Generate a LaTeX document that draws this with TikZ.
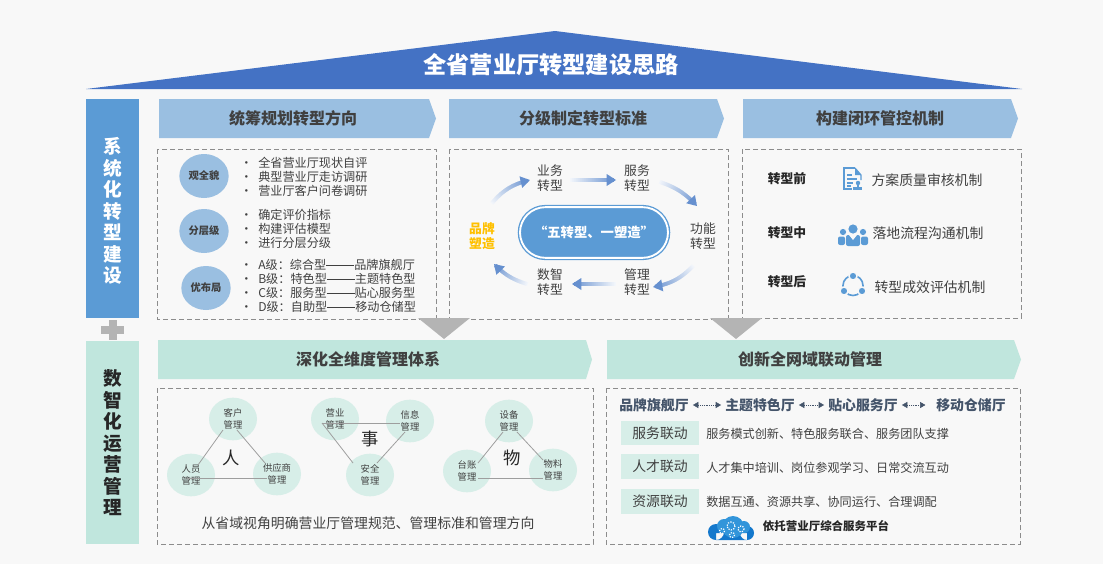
\documentclass[tikz,border=0pt]{standalone}
\usepackage{xcolor}
\usepackage{fontspec}
\setmainfont{Noto Sans CJK SC}
\usetikzlibrary{shapes,arrows,arrows.meta,positioning,calc,decorations.markings}

\definecolor{pagegray}{HTML}{F8F8F8}
\definecolor{roofblue}{HTML}{4472C4}
\definecolor{barblue}{HTML}{5B9BD5}
\definecolor{headblue}{HTML}{9ABFE1}
\definecolor{barteal}{HTML}{C0E6DD}
\definecolor{softteal}{HTML}{D7EEE8}
\definecolor{darktext}{HTML}{404040}
\definecolor{navytext}{HTML}{44546A}
\definecolor{flowblue}{HTML}{6690CF}
\definecolor{dashgray}{HTML}{8C8C8C}
\definecolor{wedgegray}{HTML}{B4B4B4}
\definecolor{brandorange}{HTML}{FFC000}
\definecolor{cloudtop}{HTML}{5FC0F0}
\definecolor{cloudlow}{HTML}{1478CC}

\newcommand{\px}[1]{\fontsize{#1}{#1}\selectfont}
\newcommand{\longdash}{\rule[0.36em]{21pt}{0.5pt}}

\tikzset{
  dashbox/.style={draw=dashgray, line width=0.7pt, dash pattern=on 3.5pt off 2.5pt},
  headtext/.style={font=\px{12}\bfseries, text=darktext, inner sep=1pt},
  bodytext/.style={font=\px{9.1}, text=darktext, inner sep=0pt, anchor=west},
  tagtext/.style={font=\px{7.7}\bfseries, text=darktext, fill=headblue, ellipse, inner sep=0pt, minimum width=37pt, minimum height=33pt},
  flowtext/.style={font=\fontsize{9.6}{11.3}\selectfont, text=darktext, align=center, inner sep=1pt},
  stagetext/.style={font=\px{9.6}\bfseries, text=black!85, inner sep=1pt},
  mechtext/.style={font=\px{10.4}, text=darktext, inner sep=1pt},
  mgmtcircle/.style={ellipse, fill=softteal, inner sep=0pt, minimum width=36pt, minimum height=32pt, align=center, font=\fontsize{7}{8.6}\selectfont, text=darktext},
  triline/.style={draw=black!38, line width=0.6pt},
  bigchar/.style={font=\px{13}, text=black!85, inner sep=0pt},
  halltext/.style={font=\px{10.4}\bfseries, text=navytext, inner sep=3pt},
  linktag/.style={fill=softteal, minimum width=58.5pt, minimum height=18.5pt, inner sep=0pt, font=\px{10.4}, text=darktext},
  linkarrow/.style={{Triangle[length=4pt,width=4.5pt]}-{Triangle[length=4pt,width=4.5pt]}, navytext, densely dotted, line width=0.4pt},
  fadearrow/.style={postaction={decorate}, decoration={markings,
    mark=between positions 0 and 0.94 step 0.5pt with {
      \pgfmathsetmacro\fadepct{8+92*\pgfkeysvalueof{/pgf/decoration/mark info/distance from start}/\pgfdecoratedpathlength}
      \fill[flowblue!\fadepct!white] (-0.4pt,-1.4pt) rectangle (0.4pt,1.4pt);},
    mark=at position 1 with {\fill[flowblue] (0pt,0pt) -- (-7pt,4.5pt) -- (-7pt,-4.5pt) -- cycle;}}}
}

\begin{document}
\begin{tikzpicture}[x=0.75pt, y=-0.75pt]
\path[use as bounding box, fill=pagegray] (0,0) rectangle (1103,564);

% Roof
\fill[roofblue] (86,89) -- (555,31) -- (1022,89) -- cycle;
\node[font=\px{17.4}\bfseries, text=white, inner sep=0pt] (rooftitle) at (551,65) {全省营业厅转型建设思路};

% Left bars
\fill[barblue] (86,99) rectangle (139,318);
\node[font=\fontsize{14}{16.1}\selectfont\bfseries, text=white, align=center, inner sep=0pt] (bartop) at (112.5,211) {系\\统\\化\\转\\型\\建\\设};
\fill[barteal] (86,341) rectangle (139,544);
\node[font=\fontsize{14}{16.1}\selectfont\bfseries, text=black!85, align=center, inner sep=0pt] (barbottom) at (112.5,443) {数\\智\\化\\运\\营\\管\\理};
\fill[wedgegray] (108.5,320) rectangle (116.5,340);
\fill[wedgegray] (101,326) rectangle (124,334);

% Dashed boxes
\draw[dashbox] (157,149) rectangle (436,319);
\draw[dashbox] (449,149) rectangle (728,319);
\draw[dashbox] (742,149) rectangle (1021,318);
\draw[dashbox] (157,388) rectangle (593,544);
\draw[dashbox] (606,388) rectangle (1020,544);

% Top headers
\fill[headblue] (159,99) -- (429,99) -- (436,118.5) -- (429,138) -- (159,138) -- cycle;
\node[headtext] (headplan) at (293,118) {统筹规划转型方向};
\fill[headblue] (449,99) -- (717,99) -- (724,118.5) -- (717,138) -- (449,138) -- cycle;
\node[headtext] (headgrade) at (583,118) {分级制定转型标准};
\fill[headblue] (743,99) -- (1011,99) -- (1018,118.5) -- (1011,138) -- (743,138) -- cycle;
\node[headtext] (headloop) at (880,118) {构建闭环管控机制};

% Bottom headers
\fill[barteal] (158,340) -- (586,340) -- (592,359.5) -- (586,379) -- (158,379) -- cycle;
\node[headtext] (headdepth) at (368,359) {深化全维度管理体系};
\fill[barteal] (607,340) -- (1014,340) -- (1021,359.5) -- (1014,379) -- (607,379) -- cycle;
\node[headtext] (headlink) at (810,359) {创新全网域联动管理};

% Gray wedges
\fill[wedgegray] (418,318) -- (470,318) -- (444,339) -- cycle;
\fill[wedgegray] (710,318) -- (762,318) -- (736,339) -- cycle;

% Overview tags and lists
\node[tagtext] (tagview) at (204,176) {观全貌};
\node[tagtext] (taglevel) at (204,231) {分层级};
\node[tagtext] (taglayout) at (206,288) {优布局};
\foreach \rowy/\rowtext in {163/全省营业厅现状自评, 177/典型营业厅走访调研, 191/营业厅客户问卷调研,
    215/确定评价指标, 229/构建评估模型, 243/进行分层分级,
    265/A级：综合型\longdash 品牌旗舰厅, 279/B级：特色型\longdash 主题特色型,
    293/C级：服务型\longdash 贴心服务型, 307/D级：自助型\longdash 移动仓储型}
  \node[bodytext] (row\rowy) at (240,\rowy) {\makebox[13.5pt][l]{•}\rowtext};

% Five transformations ring
\node[fill=barblue, draw=barblue, line width=1pt, double=white, double distance=1.4pt, rounded corners=19pt, minimum width=111pt, minimum height=38pt, inner sep=0pt, font=\px{10}\bfseries, text=white] (fivepill) at (594,232.5) {“五转型、一塑造”};
\node[flowtext] (yewu) at (550,178) {业务\\转型};
\node[flowtext] (fuwu) at (637,178) {服务\\转型};
\node[flowtext] (gongneng) at (703,236) {功能\\转型};
\node[flowtext] (guanli) at (637,282) {管理\\转型};
\node[flowtext] (shuzhi) at (550,282) {数智\\转型};
\node[flowtext, text=brandorange, font=\fontsize{9.6}{11.3}\selectfont\bfseries] (pinpai) at (482,236) {品牌\\塑造};
\path[fadearrow] ($(pinpai)+(10,-33)$) to[bend left=18] ($(yewu)+(-20,2)$);
\path[fadearrow] ($(yewu)+(21,2)$) -- ($(fuwu)+(-21,2)$);
\path[fadearrow] ($(fuwu)+(23,4)$) to[bend left=14] ($(gongneng)+(-6,-30)$);
\path[fadearrow] ($(gongneng)+(-10,30)$) to[bend left=18] ($(guanli)+(16,5)$);
\path[fadearrow] ($(guanli)+(-22,2)$) -- ($(shuzhi)+(22,2)$);
\path[fadearrow] ($(shuzhi)+(-23,2)$) to[bend left=14] ($(pinpai)+(12,28)$);

% Control stages
\node[stagetext] (stagebefore) at (787,179) {转型前};
\node[stagetext] (stageduring) at (787,233) {转型中};
\node[stagetext] (stageafter) at (787,282) {转型后};
\node[mechtext] (mechplan) at (927,180) {方案质量审核机制};
\node[mechtext] (mechflow) at (928,233) {落地流程沟通机制};
\node[mechtext] (mecheval) at (930,287) {转型成效评估机制};

% Document icon
\draw[barblue, line width=0.9pt] (855,168) -- (844,168) -- (844,189) -- (852,189);
\draw[barblue, line width=0.9pt] (855,168) -- (861,175) -- (861,180);
\fill[barblue] (855,168) -- (855,175) -- (861,175) -- cycle;
\draw[barblue, line width=0.8pt] (847,175) -- (852,175) (847,179) -- (857,179) (847,183) -- (853,183) (847,186) -- (851,186);
\fill[barblue] (858,183) circle (2.2);
\fill[barblue] (857,184) rectangle (859,187);
\fill[barblue] (853,187) rectangle (862,190);

% People icon
\fill[barblue] (853,229) circle (4.6);
\fill[barblue] (843,232) circle (3.1);
\fill[barblue] (863,232) circle (3.1);
\fill[barblue, rounded corners=1.5pt] (838,236.5) rectangle (845,245);
\fill[barblue, rounded corners=1.5pt] (861,236.5) rectangle (868,245);
\fill[barblue, rounded corners=1.5pt] (846,235) rectangle (860,246);
\fill[pagegray] (849,235) -- (857,235) -- (853,240) -- cycle;

% Cycle icon
\draw[barblue, line width=1.2pt] (853,285.5) circle (10);
\foreach \dotx/\doty in {853/276, 844/291, 862/291}
  \fill[barblue, draw=pagegray, line width=1.1pt] (\dotx,\doty) circle (4);

% People triangle
\node[mgmtcircle] (kehu) at (233,419) {客户\\管理};
\node[mgmtcircle] (renyuan) at (191,475) {人员\\管理};
\node[mgmtcircle] (gongying) at (277,474) {供应商\\管理};
\node[bigchar] (charren) at (231,458) {人};
\draw[triline] ($(kehu)+(-10,11)$) -- ($(renyuan)+(7,-10)$);
\draw[triline] ($(kehu)+(4,11)$) -- ($(gongying)+(-12,-11)$);
\draw[triline] ($(renyuan)+(-4,3)$) -- ($(gongying)+(-10,4)$);

% Affairs triangle
\node[mgmtcircle] (yingye) at (335,419) {营业\\管理};
\node[mgmtcircle] (xinxi) at (410,421) {信息\\管理};
\node[mgmtcircle] (anquan) at (370,475) {安全\\管理};
\node[bigchar] (charshi) at (370,439) {事};
\draw[triline] ($(yingye)+(-13,4)$) -- ($(xinxi)+(-10,2)$);
\draw[triline] ($(yingye)+(-13,4)$) -- ($(anquan)+(-17,-12)$);
\draw[triline] ($(xinxi)+(-5,11)$) -- ($(anquan)+(7,-12)$);

% Assets triangle
\node[mgmtcircle] (shebei) at (509,421) {设备\\管理};
\node[mgmtcircle] (taizhang) at (467,471) {台账\\管理};
\node[mgmtcircle] (wuliao) at (553,470) {物料\\管理};
\node[bigchar] (charwu) at (512,458) {物};
\draw[triline] ($(shebei)+(-6,11)$) -- ($(taizhang)+(11,-8)$);
\draw[triline] ($(shebei)+(8,11)$) -- ($(wuliao)+(-10,-10)$);
\draw[triline] ($(taizhang)+(11,7)$) -- ($(wuliao)+(-10,8)$);
\node[font=\px{10.4}, text=darktext, inner sep=0pt] (mgmtnote) at (368,523) {从省域视角明确营业厅管理规范、管理标准和管理方向};

% Hall row
\node[halltext] (hallbrand) at (654,405) {品牌旗舰厅};
\node[halltext] (halltheme) at (760,405) {主题特色厅};
\node[halltext] (hallcare) at (863,405) {贴心服务厅};
\node[halltext] (hallmove) at (971,405) {移动仓储厅};
\draw[linkarrow] (hallbrand) -- (halltheme);
\draw[linkarrow] (halltheme) -- (hallcare);
\draw[linkarrow, shorten >=5pt] (hallcare) -- (hallmove);

% Linkage rows
\node[linktag] (linkservice) at (660,433) {服务联动};
\node[linktag] (linktalent) at (660,466.5) {人才联动};
\node[linktag] (linkresource) at (660,501.5) {资源联动};
\node[bodytext] (rowservice) at (706,433.5) {服务模式创新、特色服务联合、服务团队支撑};
\node[bodytext] (rowtalent) at (706,467.5) {人才集中培训、岗位参观学习、日常交流互动};
\node[bodytext] (rowresource) at (706,501.5) {数据互通、资源共享、协同运行、合理调配};

% Cloud icon
\fill[cloudlow] (716,532) circle (8) (747,533) circle (7) (716,533) rectangle (747,540);
\fill[cloudlow!60!cloudtop] (724,526) circle (7) (733,527) circle (11) (744,527) circle (6);
\draw[white, line width=0.9pt, densely dotted] (731,526) circle (4) (722,531) circle (2.5) (741,529) circle (3) (732,535) circle (2.5);
\node[font=\px{8.6}\bfseries, text=black!85, inner sep=0pt] (platform) at (826,526) {依托营业厅综合服务平台};
\end{tikzpicture}
\end{document}
